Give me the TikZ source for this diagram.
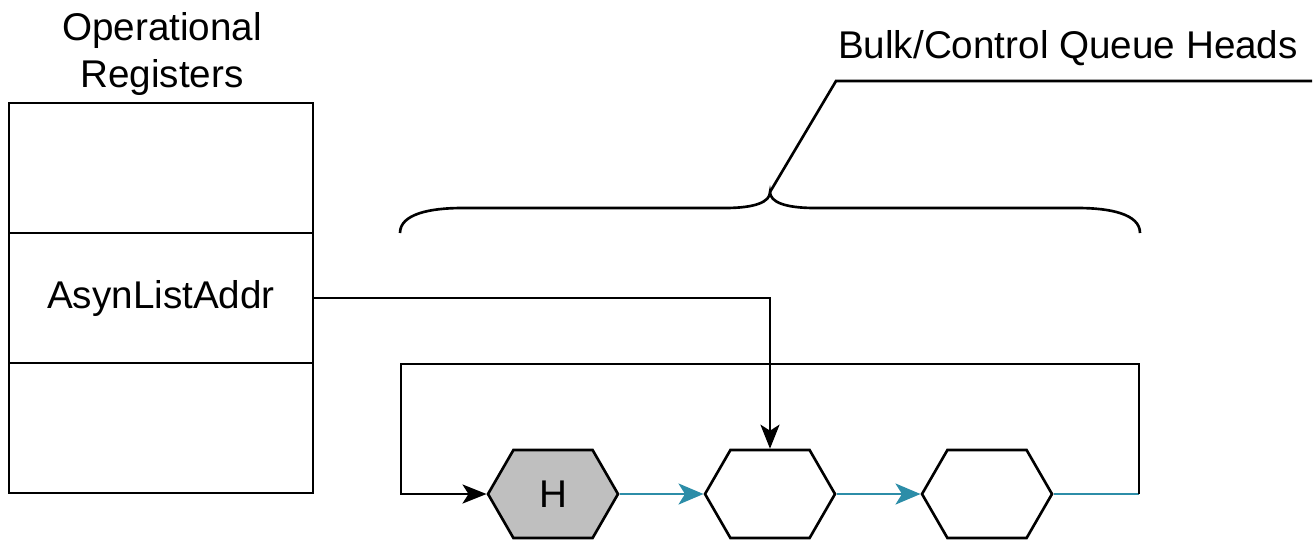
\documentclass[tikz,border=0pt]{standalone}
\usepackage{fontspec}
\setmainfont{Liberation Sans}
\usetikzlibrary{arrows.meta,shapes.symbols}
\definecolor{linkteal}{RGB}{44,141,168}
\begin{document}
\begin{tikzpicture}[x=0.02cm,y=-0.02cm,line width=1.5pt,
    font=\fontsize{22}{27}\selectfont,
    reg/.style={draw,rectangle,minimum width=6.08cm,minimum height=2.6cm,inner sep=0pt},
    hexa/.style={draw,signal,signal to=west and east,signal pointer angle=120,
        minimum width=2.6cm,minimum height=1.76cm,inner sep=0pt},
    link/.style={draw=linkteal,-{Stealth[length=0.5cm,width=0.42cm,inset=0.13cm,fill=linkteal]}},
    tip/.style={-{Stealth[length=0.48cm,width=0.38cm,inset=0.12cm]}}]
    \useasboundingbox (0,0) rectangle (1314,539);
    % registers
    \node[align=center] (opreg) at (162,54) {Operational\\Registers};
    \node[reg] (r1) at (161,168) {};
    \node[reg] (r2) at (161,298) {AsynListAddr};
    \node[reg] (r3) at (161,428) {};
    % queue heads
    \node[hexa,fill=black!25] (h1) at (553,494) {H};
    \node[hexa] (h2) at (770,494) {};
    \node[hexa] (h3) at (987,494) {};
    \draw[link] (h1.east) -- (h2.west);
    \draw[link] (h2.east) -- (h3.west);
    \coordinate (ret) at (1139,494);
    \coordinate (back) at (401,364);
    \draw[draw=linkteal] (h3.east) -- (ret);
    \draw[tip] (ret) |- (back) |- (h1.west);
    \draw[tip] (r2.east) -| (h2.north);
    % brace and label
    \coordinate (bl) at (400,233);
    \coordinate (br) at (1140,233);
    \coordinate (btip) at (770,192);
    \coordinate (bknee) at (836,81);
    \coordinate (bend) at (1312,81);
    \node[anchor=base] (bulk) at (1068,58) {Bulk/Control Queue Heads};
    \draw (bl) .. controls (400,214) and (430,208) .. (462,208) -- (725,208)
        .. controls (755,208) and (770,202) .. (btip)
        .. controls (770,202) and (785,208) .. (815,208) -- (1078,208)
        .. controls (1110,208) and (1140,214) .. (br);
    \draw (btip) -- (bknee) -- (bend);
\end{tikzpicture}
\end{document}
